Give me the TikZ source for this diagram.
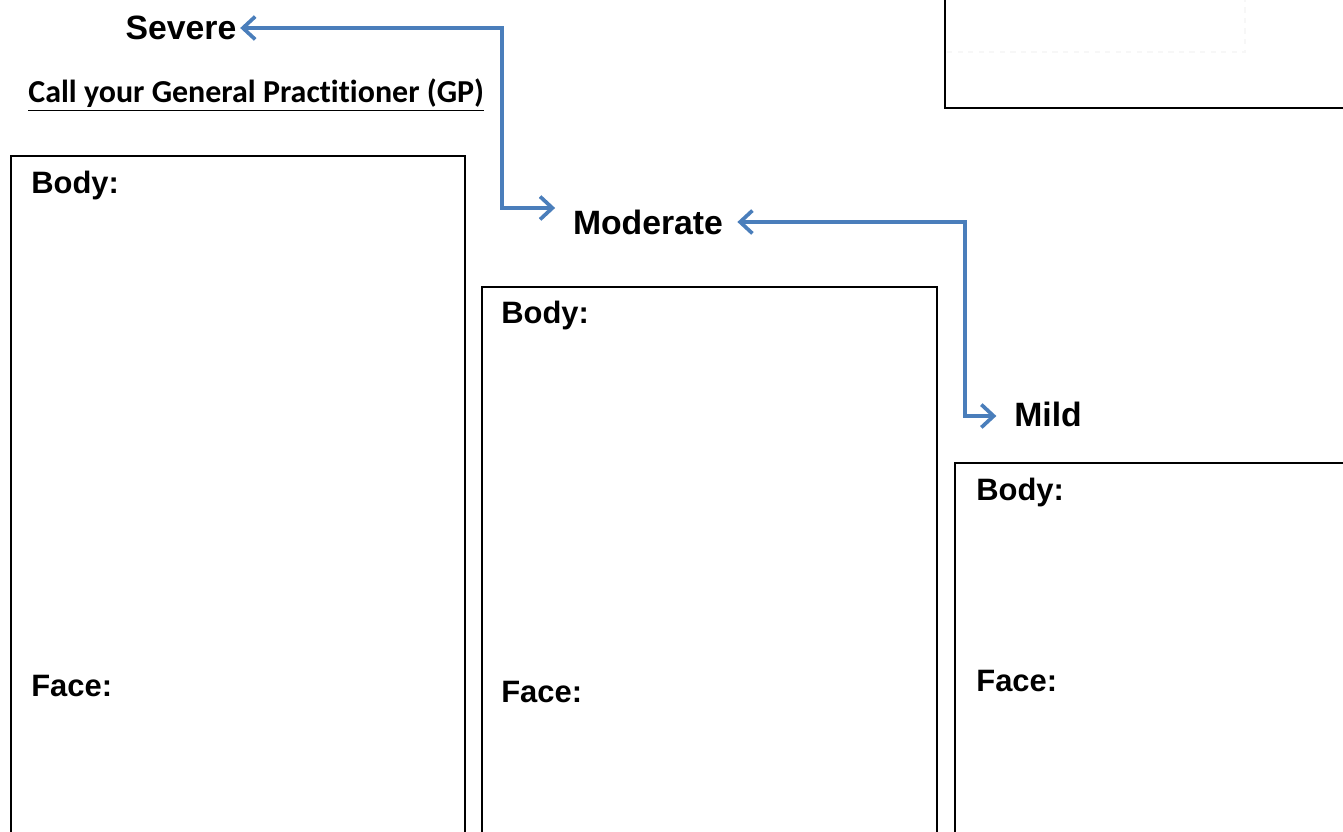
\documentclass[tikz,border=0pt]{standalone}
\usepackage{fontspec}
\setmainfont{Liberation Sans}
\newfontfamily\callfont[Ligatures=NoCommon]{Carlito}
\usetikzlibrary{arrows.meta, positioning}
\definecolor{linkblue}{HTML}{4A7EBB}

\begin{document}
\begin{tikzpicture}[x=0.02cm, y=-0.02cm,
  panel/.style={draw, line width=1.1pt, anchor=north west, inner sep=0pt},
  level/.style={font=\fontsize{19.2}{22}\selectfont\bfseries, inner sep=2pt},
  field/.style={font=\fontsize{17.6}{20}\selectfont\bfseries, anchor=west, inner sep=0pt},
  link/.style={{Straight Barb[length=7pt,width=13pt]}-{Straight Barb[length=7pt,width=13pt]},
               draw=linkblue, line width=2.1pt}]
  \useasboundingbox (0,0) rectangle (1343,832);
  \clip (0,0) rectangle (1343,832);

  % boxes
  \node[panel, minimum width=8.4cm, minimum height=2.54cm] (note) at (944,-20) {};
  \draw[gray!6, dashed, line width=0.8pt] (947,52) -- (1245,52) -- (1245,-5);
  \node[panel, minimum width=9.08cm, minimum height=14.4cm] (severebox) at (10,155) {};
  \node[panel, minimum width=9.1cm, minimum height=14.4cm] (moderatebox) at (481,286) {};
  \node[panel, minimum width=8.4cm, minimum height=10cm] (mildbox) at (954,462) {};

  % headings
  \node[level] (severe) at (181,28) {Severe};
  \node[font=\callfont\fontsize{18.2}{20}\selectfont\bfseries, anchor=west, inner sep=0pt] (gp)
    at (28,95) {\underline{Call your General Practitioner (GP)}};
  \node[level] (moderate) at (648,222) {Moderate};
  \node[level] (mild) at (1048,414) {Mild};

  % fields
  \node[field] (body1) at (31,186) {Body:};
  \node[field] (face1) at (31,686) {Face:};
  \node[field] (body2) at (501,316) {Body:};
  \node[field] (face2) at (501,692) {Face:};
  \node[field] (body3) at (976,492) {Body:};
  \node[field] (face3) at (976,681) {Face:};

  % links
  \coordinate (turn1) at (502,208);
  \coordinate (turn2) at (965,416);
  \draw[link, shorten >=8pt] (severe.east) -| (turn1) -- (turn1 -| moderate.west);
  \draw[link, shorten <=6pt, shorten >=8pt] (moderate.east) -| (turn2) -- (turn2 -| mild.west);
\end{tikzpicture}
\end{document}
